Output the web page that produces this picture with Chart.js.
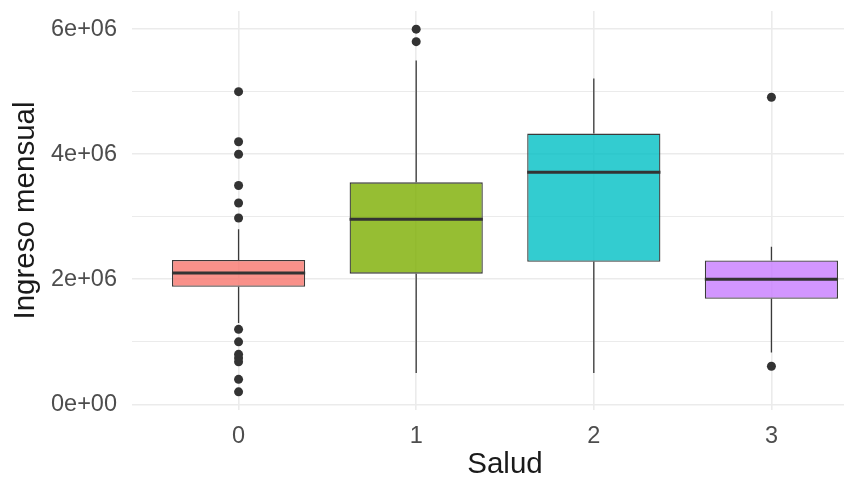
<!DOCTYPE html>
<html>
<head>
<meta charset="utf-8">
<script src="https://cdn.jsdelivr.net/npm/chart.js@4/dist/chart.umd.min.js"></script>
<style>
  html, body { margin: 0; padding: 0; background: #ffffff; }
  #wrap { width: 844px; height: 485px; overflow: hidden; position: relative; }
  #c { display: block; filter: blur(0.6px); }
</style>
</head>
<body>
<div id="wrap"><canvas id="c" width="884" height="485"></canvas></div>
<script>
// Monthly income by health category (box plot summary)
const categories = ['0', '1', '2', '3'];
const q1 = [1.88e6, 2.09e6, 2.28e6, 1.69e6];
const medians = [2.10e6, 2.96e6, 3.71e6, 2.00e6];
const q3 = [2.31e6, 3.55e6, 4.33e6, 2.30e6];
const whiskerLow = [1.30e6, 0.50e6, 0.50e6, 0.83e6];
const whiskerHigh = [2.80e6, 5.50e6, 5.21e6, 2.52e6];
const outliers0 = [5.0e6, 4.2e6, 4.0e6, 3.5e6, 3.22e6, 2.98e6, 1.2e6, 1.0e6, 0.8e6, 0.74e6, 0.68e6, 0.4e6, 0.2e6];
const outliers1 = [6.0e6, 5.8e6];
const outliers2 = [];
const outliers3 = [4.91e6, 0.61e6];
const outliers = [outliers0, outliers1, outliers2, outliers3];

const yTickValues = [0, 2e6, 4e6, 6e6];
const yTickLabels = ['0e+00', '2e+06', '4e+06', '6e+06'];
const yMinorValues = [1e6, 3e6, 5e6];

const fillColors = [
  'rgba(248,118,109,0.8)',
  'rgba(124,174,0,0.8)',
  'rgba(0,191,196,0.8)',
  'rgba(199,124,255,0.8)'
];

const BOX_WIDTH = 0.75;
const FONT = '"Liberation Sans", Arial, Helvetica, sans-serif';
const GRID = '#EBEBEB';
const INK = '#3a3a3a';

const boxData = categories.map((c, i) => ({ x: i, y: [q1[i], q3[i]] }));
const whiskerData = categories.flatMap((c, i) => [
  { x: i, y: whiskerLow[i] }, { x: i, y: q1[i] }, { x: i, y: null },
  { x: i, y: q3[i] }, { x: i, y: whiskerHigh[i] }, { x: i, y: null }
]);
const medianData = categories.flatMap((c, i) => [
  { x: i - BOX_WIDTH / 2, y: medians[i] },
  { x: i + BOX_WIDTH / 2, y: medians[i] },
  { x: i, y: null }
]);
const outlierData = categories.flatMap((c, i) => outliers[i].map(v => ({ x: i, y: v })));

// keep the panel edges fixed: tick labels must not push the plot area inward
const noLabelPadding = s => {
  s.paddingTop = 0; s.paddingBottom = 0; s.paddingLeft = 0; s.paddingRight = 0;
};

new Chart(document.getElementById('c'), {
  type: 'bar',
  data: {
    datasets: [
      {
        type: 'line',
        data: whiskerData,
        borderColor: INK,
        borderWidth: 1.3,
        pointRadius: 0,
        spanGaps: false,
        order: 4
      },
      {
        type: 'bar',
        data: boxData,
        backgroundColor: fillColors,
        borderColor: INK,
        borderWidth: 1.3,
        borderSkipped: false,
        barPercentage: BOX_WIDTH,
        categoryPercentage: 1,
        order: 3
      },
      {
        type: 'line',
        data: medianData,
        borderColor: '#333333',
        borderWidth: 3,
        pointRadius: 0,
        spanGaps: false,
        order: 2
      },
      {
        type: 'scatter',
        data: outlierData,
        backgroundColor: '#333333',
        borderWidth: 0,
        pointRadius: 4.5,
        order: 1
      }
    ]
  },
  options: {
    responsive: false,
    animation: false,
    devicePixelRatio: 1,
    layout: { padding: { left: 8, top: 11, right: 6, bottom: 2 } },
    plugins: { legend: { display: false }, tooltip: { enabled: false } },
    scales: {
      x: {
        type: 'linear',
        min: -0.6,
        max: 3.6,
        offset: false,
        afterBuildTicks: s => { s.ticks = categories.map((c, i) => ({ value: i })); },
        afterFit: s => { s.height = 73; noLabelPadding(s); },
        ticks: {
          callback: v => categories[v],
          color: '#4D4D4D',
          font: { family: FONT, size: 23.5 },
          padding: 12,
          maxRotation: 0,
          autoSkip: false
        },
        grid: { color: GRID, lineWidth: 1.6, drawTicks: false, offset: false },
        border: { display: false },
        title: {
          display: true,
          text: 'Salud',
          color: '#1a1a1a',
          font: { family: FONT, size: 29.5 },
          padding: 0
        }
      },
      y: {
        type: 'linear',
        min: -0.09e6,
        max: 6.29e6,
        afterBuildTicks: s => {
          s.ticks = yTickValues.concat(yMinorValues).sort((a, b) => a - b).map(v => ({ value: v }));
        },
        afterFit: s => { s.width = 124; noLabelPadding(s); },
        ticks: {
          callback: v => {
            const k = yTickValues.indexOf(v);
            return k >= 0 ? yTickLabels[k] : '';
          },
          color: '#4D4D4D',
          font: { family: FONT, size: 23.5 },
          padding: 15,
          autoSkip: false
        },
        grid: {
          color: GRID,
          lineWidth: ctx => (ctx.tick && yTickValues.includes(ctx.tick.value)) ? 1.6 : 1.1,
          drawTicks: false
        },
        border: { display: false },
        title: {
          display: true,
          text: 'Ingreso mensual',
          color: '#1a1a1a',
          font: { family: FONT, size: 29.5 },
          padding: 0
        }
      }
    }
  }
});
</script>
</body>
</html>
